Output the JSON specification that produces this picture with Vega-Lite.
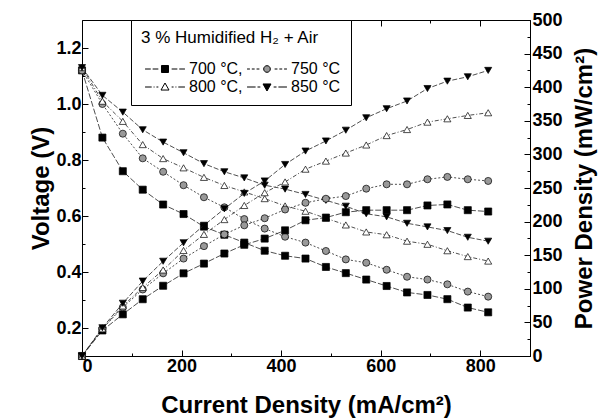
{
"$schema": "https://vega.github.io/schema/vega-lite/v6.json",
"width": 448, "height": 336,
"autosize": "none",
"padding": {"left": 82, "top": 20, "right": 84, "bottom": 62},
"background": "white",
"config": {
  "view": {"stroke": "black", "strokeWidth": 1},
  "font": "Liberation Sans",
  "axis": {"labelFont": "Liberation Sans", "labelFontWeight": "bold", "labelFontSize": 18, "labelColor": "black",
    "titleFont": "Liberation Sans", "titleFontWeight": "bold", "titleFontSize": 24, "titleColor": "black",
    "domainColor": "black", "tickColor": "black", "grid": false, "tickSize": -6, "labelPadding": 7}
},
"data": {"values": [
{"T":"700 °C","I":0,"V":1.12,"P":0},{"T":"700 °C","I":41,"V":0.88,"P":38},{"T":"700 °C","I":82,"V":0.76,"P":62},{"T":"700 °C","I":122,"V":0.694,"P":84.5},{"T":"700 °C","I":163,"V":0.641,"P":104.5},{"T":"700 °C","I":204,"V":0.607,"P":123},{"T":"700 °C","I":245,"V":0.562,"P":137.5},{"T":"700 °C","I":286,"V":0.533,"P":152.5},{"T":"700 °C","I":326,"V":0.505,"P":165.5},{"T":"700 °C","I":367,"V":0.476,"P":174.7},{"T":"700 °C","I":408,"V":0.458,"P":187},{"T":"700 °C","I":449,"V":0.448,"P":202},{"T":"700 °C","I":490,"V":0.418,"P":206},{"T":"700 °C","I":530,"V":0.396,"P":214},{"T":"700 °C","I":571,"V":0.373,"P":217},{"T":"700 °C","I":612,"V":0.35,"P":217},{"T":"700 °C","I":653,"V":0.327,"P":217},{"T":"700 °C","I":694,"V":0.318,"P":224},{"T":"700 °C","I":734,"V":0.303,"P":225.5},{"T":"700 °C","I":775,"V":0.273,"P":217},{"T":"700 °C","I":816,"V":0.256,"P":215},
{"T":"750 °C","I":0,"V":1.12,"P":0},{"T":"750 °C","I":41,"V":1.0,"P":40.5},{"T":"750 °C","I":82,"V":0.894,"P":72.5},{"T":"750 °C","I":122,"V":0.806,"P":99},{"T":"750 °C","I":163,"V":0.758,"P":123},{"T":"750 °C","I":204,"V":0.71,"P":145},{"T":"750 °C","I":245,"V":0.667,"P":163.5},{"T":"750 °C","I":286,"V":0.631,"P":181},{"T":"750 °C","I":326,"V":0.589,"P":194.5},{"T":"750 °C","I":367,"V":0.555,"P":205},{"T":"750 °C","I":408,"V":0.526,"P":218},{"T":"750 °C","I":449,"V":0.505,"P":228},{"T":"750 °C","I":490,"V":0.475,"P":234},{"T":"750 °C","I":530,"V":0.445,"P":238},{"T":"750 °C","I":571,"V":0.433,"P":249},{"T":"750 °C","I":612,"V":0.408,"P":255.5},{"T":"750 °C","I":653,"V":0.383,"P":255.5},{"T":"750 °C","I":694,"V":0.373,"P":263},{"T":"750 °C","I":734,"V":0.356,"P":266.5},{"T":"750 °C","I":775,"V":0.33,"P":263},{"T":"750 °C","I":816,"V":0.312,"P":260.5},
{"T":"800 °C","I":0,"V":1.13,"P":0},{"T":"800 °C","I":41,"V":1.01,"P":40.5},{"T":"800 °C","I":82,"V":0.938,"P":74.5},{"T":"800 °C","I":122,"V":0.855,"P":102},{"T":"800 °C","I":163,"V":0.805,"P":128},{"T":"800 °C","I":204,"V":0.772,"P":157},{"T":"800 °C","I":245,"V":0.738,"P":181},{"T":"800 °C","I":286,"V":0.709,"P":203},{"T":"800 °C","I":326,"V":0.686,"P":224},{"T":"800 °C","I":367,"V":0.662,"P":243},{"T":"800 °C","I":408,"V":0.636,"P":259},{"T":"800 °C","I":449,"V":0.617,"P":278},{"T":"800 °C","I":490,"V":0.592,"P":290},{"T":"800 °C","I":530,"V":0.568,"P":302},{"T":"800 °C","I":571,"V":0.543,"P":314},{"T":"800 °C","I":612,"V":0.533,"P":328},{"T":"800 °C","I":653,"V":0.51,"P":337},{"T":"800 °C","I":694,"V":0.499,"P":348},{"T":"800 °C","I":734,"V":0.476,"P":353},{"T":"800 °C","I":775,"V":0.455,"P":358},{"T":"800 °C","I":816,"V":0.439,"P":362},
{"T":"850 °C","I":0,"V":1.13,"P":0},{"T":"850 °C","I":41,"V":1.031,"P":42},{"T":"850 °C","I":82,"V":0.971,"P":78.5},{"T":"850 °C","I":122,"V":0.908,"P":111.5},{"T":"850 °C","I":163,"V":0.864,"P":141},{"T":"850 °C","I":204,"V":0.826,"P":168.5},{"T":"850 °C","I":245,"V":0.787,"P":194.5},{"T":"850 °C","I":286,"V":0.758,"P":219},{"T":"850 °C","I":326,"V":0.736,"P":242},{"T":"850 °C","I":367,"V":0.71,"P":260.5},{"T":"850 °C","I":408,"V":0.696,"P":285},{"T":"850 °C","I":449,"V":0.677,"P":305},{"T":"850 °C","I":490,"V":0.656,"P":320},{"T":"850 °C","I":530,"V":0.635,"P":336},{"T":"850 °C","I":571,"V":0.608,"P":354.5},{"T":"850 °C","I":612,"V":0.597,"P":368},{"T":"850 °C","I":653,"V":0.574,"P":379.5},{"T":"850 °C","I":694,"V":0.561,"P":398},{"T":"850 °C","I":734,"V":0.548,"P":409},{"T":"850 °C","I":775,"V":0.524,"P":415.5},{"T":"850 °C","I":816,"V":0.51,"P":425}
]},
"layer": [
 {
  "encoding": {
    "y": {"field": "V", "type": "quantitative", "scale": {"domain": [0.1, 1.3]},
      "axis": {"values": [0.2, 0.3, 0.4, 0.5, 0.6, 0.7, 0.8, 0.9, 1.0, 1.1, 1.2],
        "labelExpr": "round(datum.value*10) % 2 == 0 ? format(datum.value, '.1f') : ''",
        "tickSize": {"condition": {"test": "round(datum.value*10) % 2 == 0", "value": -6}, "value": -3},
        "title": "Voltage (V)", "titlePadding": 2}}
  },
  "layer": [
   {"mark": {"type": "line", "color": "#222222", "strokeWidth": 0.8},
    "encoding": {
      "x": {"field": "I", "type": "quantitative", "scale": {"domain": [0, 900]},
        "axis": {"values": [0, 100, 200, 300, 400, 500, 600, 700, 800],
          "labelExpr": "datum.value % 200 == 0 ? datum.label : ''",
          "tickSize": {"condition": {"test": "datum.value % 200 == 0", "value": -6}, "value": -3},
          "title": "Current Density (mA/cm²)", "titlePadding": 18}},
      "detail": {"field": "T"},
      "strokeDash": {"field": "T", "type": "nominal", "legend": null, "scale": {"domain": ["700 °C","750 °C","800 °C","850 °C"], "range": [[6,2],[2,2],[4,2,1,2],[5,2]]}}}},
   {"mark": {"type": "point", "filled": true, "size": 50, "stroke": "black", "strokeWidth": 0.7, "opacity": 1, "clip": false},
    "encoding": {
      "x": {"field": "I", "type": "quantitative", "axis": null},
      "shape": {"field": "T", "type": "nominal", "legend": null, "scale": {"domain": ["700 °C","750 °C","800 °C","850 °C"], "range": ["square","circle","triangle-up","triangle-down"]}},
      "fill": {"field": "T", "type": "nominal", "legend": null, "scale": {"domain": ["700 °C","750 °C","800 °C","850 °C"], "range": ["black","#999999","white","black"]}}
    }},
   {"transform": [{"filter": "false"}],
    "mark": {"type": "point"},
    "encoding": {
      "x": {"field": "I", "type": "quantitative",
        "axis": {"orient": "top", "values": [100, 200, 300, 400, 500, 600, 700, 800], "labels": false, "domain": false, "title": null, "offset": 0,
          "tickSize": {"condition": {"test": "datum.value % 200 == 0", "value": -6}, "value": -3}}}
    }}
  ],
  "resolve": {"axis": {"x": "independent"}}
 },
 {
  "encoding": {
    "x": {"field": "I", "type": "quantitative", "axis": null},
    "y": {"field": "P", "type": "quantitative", "scale": {"domain": [0, 500]},
      "axis": {"orient": "right", "values": [0, 25, 50, 75, 100, 125, 150, 175, 200, 225, 250, 275, 300, 325, 350, 375, 400, 425, 450, 475, 500],
        "labelExpr": "datum.value % 50 == 0 ? datum.label : ''",
        "tickSize": {"condition": {"test": "datum.value % 50 == 0", "value": -6}, "value": -3},
        "title": "Power Density (mW/cm²)", "titleAngle": -90, "titleBaseline": "top", "titlePadding": 10, "labelPadding": 8}}
  },
  "layer": [
   {"mark": {"type": "line", "color": "#222222", "strokeWidth": 0.8},
    "encoding": {"detail": {"field": "T"}, "strokeDash": {"field": "T", "type": "nominal", "legend": null}}},
   {"mark": {"type": "point", "filled": true, "size": 50, "stroke": "black", "strokeWidth": 0.7, "opacity": 1, "clip": false},
    "encoding": {
      "shape": {"field": "T", "type": "nominal", "legend": null, "scale": {"domain": ["700 °C","750 °C","800 °C","850 °C"], "range": ["square","circle","triangle-up","triangle-down"]}},
      "fill": {"field": "T", "type": "nominal", "legend": null, "scale": {"domain": ["700 °C","750 °C","800 °C","850 °C"], "range": ["black","#999999","white","black"]}}
    }}
  ]
 },
 {
  "transform": [{"filter": "false"}],
  "mark": {"type": "point", "filled": true, "strokeWidth": 1, "opacity": 1},
  "encoding": {
    "shape": {"field": "T", "type": "nominal",
      "scale": {"domain": ["700 °C","750 °C","800 °C","850 °C"], "range": [
        "M-2.1,0H-1.5M-1.3,0H-0.7M0.7,0H1.3M1.5,0H2.1M-0.37,-0.37H0.37V0.37H-0.37Z",
        "M-2.1,0H-1.8M-1.6,0H-1.3M-1.1,0H-0.8M0.8,0H1.1M1.3,0H1.6M1.8,0H2.1M-0.35,0A0.35,0.35 0 1,0 0.35,0A0.35,0.35 0 1,0 -0.35,0Z",
        "M-2.1,0H-1.4M-1.2,0H-1.1M-0.9,0H-0.7M0.7,0H0.9M1.1,0H1.2M1.4,0H2.1M0,-0.42L0.42,0.32L-0.42,0.32Z",
        "M-2.1,0H-1.2M-1,0H-0.7M0.7,0H1M1.2,0H2.1M0,0.42L0.42,-0.32L-0.42,-0.32Z"]},
      "legend": {"orient": "none", "legendX": 49, "legendY": 0, "title": "3 % Humidified H₂ + Air", "titleLimit": 400, "columns": 2, "direction": "horizontal",
        "strokeColor": "black", "fillColor": "white", "padding": 10,
        "titleFontSize": 17, "titleFontWeight": "normal", "titleColor": "black", "titleFont": "Liberation Sans", "titlePadding": 12,
        "labelFontSize": 16, "labelColor": "black", "labelFont": "Liberation Sans",
        "symbolSize": 361, "symbolStrokeWidth": 1, "symbolOpacity": 1, "symbolOffset": 14, "labelOffset": 14,
        "columnPadding": 0, "rowPadding": 0,
        "labelExpr": "datum.label == '700 °C' || datum.label == '800 °C' ? datum.label + ',' : datum.label"}},
    "fill": {"field": "T", "type": "nominal",
      "scale": {"domain": ["700 °C","750 °C","800 °C","850 °C"], "range": ["black","#999999","white","black"]},
      "legend": {"orient": "none", "legendX": 49, "legendY": 0, "title": "3 % Humidified H₂ + Air", "titleLimit": 400, "columns": 2, "direction": "horizontal",
        "strokeColor": "black", "fillColor": "white", "padding": 10,
        "titleFontSize": 17, "titleFontWeight": "normal", "titleColor": "black", "titleFont": "Liberation Sans", "titlePadding": 12,
        "labelFontSize": 16, "labelColor": "black", "labelFont": "Liberation Sans",
        "symbolSize": 361, "symbolStrokeWidth": 1, "symbolOpacity": 1, "symbolOffset": 14, "labelOffset": 14,
        "columnPadding": 0, "rowPadding": 0,
        "labelExpr": "datum.label == '700 °C' || datum.label == '800 °C' ? datum.label + ',' : datum.label"}},
    "stroke": {"field": "T", "type": "nominal",
      "scale": {"domain": ["700 °C","750 °C","800 °C","850 °C"], "range": ["black","black","black","black"]},
      "legend": {"orient": "none", "legendX": 49, "legendY": 0, "title": "3 % Humidified H₂ + Air", "titleLimit": 400, "columns": 2, "direction": "horizontal",
        "strokeColor": "black", "fillColor": "white", "padding": 10,
        "titleFontSize": 17, "titleFontWeight": "normal", "titleColor": "black", "titleFont": "Liberation Sans", "titlePadding": 12,
        "labelFontSize": 16, "labelColor": "black", "labelFont": "Liberation Sans",
        "symbolSize": 361, "symbolStrokeWidth": 1, "symbolOpacity": 1, "symbolOffset": 14, "labelOffset": 14,
        "columnPadding": 0, "rowPadding": 0,
        "labelExpr": "datum.label == '700 °C' || datum.label == '800 °C' ? datum.label + ',' : datum.label"}}
  }
 }
],
"resolve": {"scale": {"y": "independent", "shape": "independent", "fill": "independent", "stroke": "independent"}}
}
